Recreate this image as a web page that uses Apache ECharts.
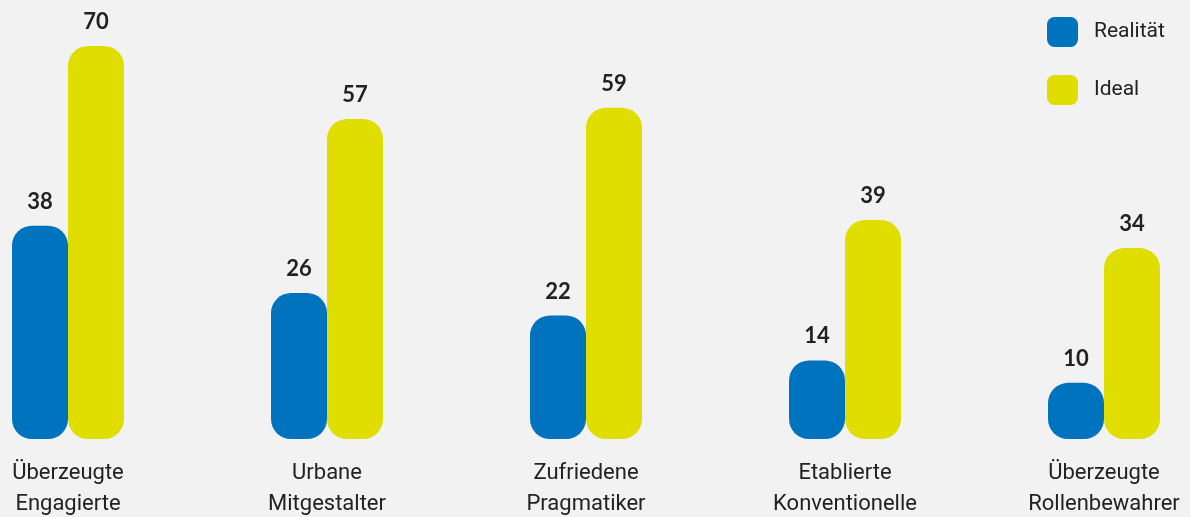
<!DOCTYPE html>
<html>
<head>
<meta charset="utf-8">
<script src="https://cdn.jsdelivr.net/npm/echarts@6/dist/echarts.min.js"></script>
<style>
html,body{margin:0;padding:0;background:#f2f2f2;}
#c{width:1190px;height:517px;}
</style>
</head>
<body>
<div id="c"></div>
<script>
const categories = ["Überzeugte\nEngagierte", "Urbane\nMitgestalter", "Zufriedene\nPragmatiker", "Etablierte\nKonventionelle", "Überzeugte\nRollenbewahrer"];
const realitaet = [38, 26, 22, 14, 10];
const ideal = [70, 57, 59, 39, 34];
const seriesNames = ["Realität", "Ideal"];

const FONT = 'Roboto, "Noto Sans", sans-serif';
const NUMFONT = 'Lato, "Noto Sans", sans-serif';
const chart = echarts.init(document.getElementById('c'), null, {renderer: 'canvas'});
const labelStyle = {show: true, position: 'top', distance: 13, fontFamily: NUMFONT, fontWeight: 'bold', fontSize: 22, color: '#222'};
chart.setOption({
  backgroundColor: '#f2f2f2',
  animation: false,
  legend: {
    orient: 'vertical', left: 1047, top: 17, padding: 0,
    itemWidth: 31, itemHeight: 30, itemGap: 28,
    icon: 'roundRect',
    textStyle: {fontFamily: FONT, fontSize: 21, color: '#222', padding: [0, 0, 0, 11]},
    data: seriesNames
  },
  grid: {left: 68, right: 86, top: 46, bottom: 78, containLabel: false, outerBoundsMode: 'none'},
  xAxis: {
    type: 'category', data: categories, boundaryGap: false,
    axisLine: {show: false}, axisTick: {show: false}, splitLine: {show: false},
    axisLabel: {margin: 19, fontFamily: FONT, fontSize: 22, lineHeight: 31, color: '#222', interval: 0}
  },
  yAxis: {type: 'value', min: 0, max: 70, show: false, splitLine: {show: false}},
  series: [
    {name: seriesNames[0], type: 'bar', data: realitaet, barWidth: 56, barGap: '0%',
     itemStyle: {color: '#0073bf', borderRadius: 20}, label: labelStyle},
    {name: seriesNames[1], type: 'bar', data: ideal, barWidth: 56, barGap: '0%',
     itemStyle: {color: '#e0de00', borderRadius: 20}, label: labelStyle}
  ]
});
</script>
</body>
</html>
